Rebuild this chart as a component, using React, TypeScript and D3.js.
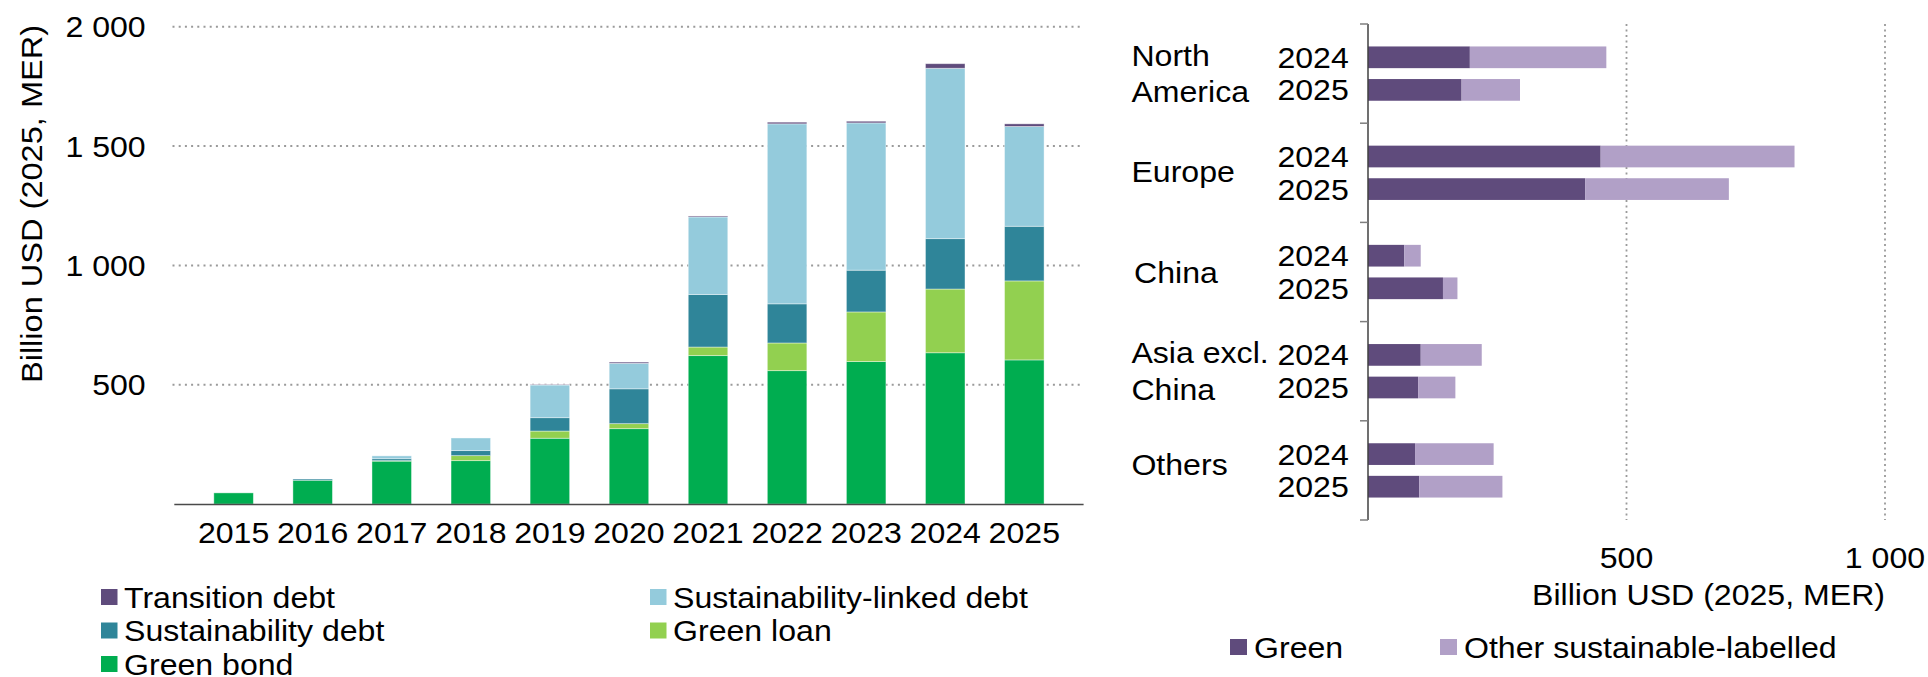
import React from 'react';
import * as d3 from 'd3';

const years = ['2015', '2016', '2017', '2018', '2019', '2020', '2021', '2022', '2023', '2024', '2025'];
const greenBond = [47, 100, 180, 182, 276, 316, 622, 559, 597, 634, 604];
const greenLoan = [0, 0, 2, 21, 30, 21, 36, 116, 208, 267, 331];
const sustainabilityDebt = [0, 5, 8, 21, 56, 146, 220, 164, 175, 211, 229];
const sustainabilityLinked = [0, 0, 12, 53, 137, 107, 325, 754, 617, 714, 418];
const transitionDebt = [0, 0, 0, 0, 2, 5, 4, 7, 7, 19, 11];
const leftTicks = [500, 1000, 1500, 2000];
const leftTickLabels = ['500', '1 000', '1 500', '2 000'];

const seriesNames = ['Green bond', 'Green loan', 'Sustainability debt', 'Sustainability-linked debt', 'Transition debt'];
const seriesColors = ['#00ad50', '#92d050', '#2f8599', '#94cbdc', '#5f4b7c'];

const regions = ['North America', 'Europe', 'China', 'Asia excl. China', 'Others'];
const regionLines = [['North', 'America'], ['Europe'], ['China'], ['Asia excl.', 'China'], ['Others']];
const regionYears = ['2024', '2025'];
const green2024 = [197, 450, 70, 102, 91];
const green2025 = [181, 420, 145, 97, 99];
const other2024 = [264, 375, 32, 118, 152];
const other2025 = [113, 278, 28, 72, 161];
const rightTicks = [500, 1000];
const rightTickLabels = ['500', '1 000'];
const rightColors = ['#5f4b7c', '#b1a0c7'];
const rightLegend = ['Green', 'Other sustainable-labelled'];

const FONT = '"Liberation Sans", Arial, sans-serif';
const FS = 30;
const SX = 1.07;

function T({ x, y, children, anchor = 'start', dy }: any) {
  return (
    <text transform={`translate(${x},${y}) scale(${SX},1)`} textAnchor={anchor} dy={dy} fontSize={FS} fill="#000">
      {children}
    </text>
  );
}

export default function App() {
  // Left chart
  const x = d3.scaleBand<string>().domain(years).range([174.3, 1083.6]).padding(0.5);
  const y = d3.scaleLinear().domain([0, 2000]).range([504.1, 26.7]);
  const table = years.map((yr, i) => ({
    year: yr,
    s0: greenBond[i], s1: greenLoan[i], s2: sustainabilityDebt[i], s3: sustainabilityLinked[i], s4: transitionDebt[i],
  }));
  const stack = d3.stack<any>().keys(['s0', 's1', 's2', 's3', 's4']);
  const stacked = stack(table);

  // Right chart
  const yr = d3.scaleBand<string>().domain(regions).range([24, 520]).padding(0);
  const yInner = d3.scaleBand<string>().domain(regionYears).range([0, yr.bandwidth()]).paddingInner(0.334).paddingOuter(0.689);
  const xr = d3.scaleLinear().domain([0, 1000]).range([1368, 1885]);
  const rows = regions.flatMap((r, i) => [
    { region: r, year: '2024', green: green2024[i], other: other2024[i] },
    { region: r, year: '2025', green: green2025[i], other: other2025[i] },
  ]);
  const labelNudge = [0, -1, 0, 0, -6];
  const labelX = [1131.4, 1131.4, 1134, 1131.4, 1131.4];

  const legendLeft = [
    { name: seriesNames[4], color: seriesColors[4], x: 101, y: 597 },
    { name: seriesNames[2], color: seriesColors[2], x: 101, y: 630.5 },
    { name: seriesNames[0], color: seriesColors[0], x: 101, y: 664 },
    { name: seriesNames[3], color: seriesColors[3], x: 650, y: 597 },
    { name: seriesNames[1], color: seriesColors[1], x: 650, y: 630.5 },
  ];

  return (
    <div style={{ position: 'absolute', left: 0, top: 0 }}>
      <svg width={1928} height={677} style={{ display: 'block', fontFamily: FONT }}>
        <rect width={1928} height={677} fill="#ffffff" />
        {/* Left gridlines */}
        {leftTicks.map((t) => (
          <line key={t} x1={172.5} x2={1083.6} y1={y(t)} y2={y(t)} stroke="#9a9a9a" strokeWidth={2} strokeDasharray="2,4.2" />
        ))}
        {leftTicks.map((t, i) => (
          <T key={'l' + t} x={145.7} y={y(t)} dy="0.35em" anchor="end">{leftTickLabels[i]}</T>
        ))}
        <text transform={`translate(31,204) rotate(-90) scale(1.085,1)`} textAnchor="middle" dy="0.35em" fontSize={FS} fill="#000">Billion USD (2025, MER)</text>
        {/* Bars */}
        {stacked.map((s, si) => (
          <g key={si} fill={seriesColors[si]}>
            {s.map((d, i) => {
              const h = y(d[0]) - y(d[1]);
              if (h <= 0) return null;
              return (
                <rect key={i} x={x(years[i])!} y={y(d[1])} width={x.bandwidth()} height={h} stroke="#ffffff" strokeOpacity={0.5} strokeWidth={0.8} />
              );
            })}
          </g>
        ))}
        <line x1={174.3} x2={1083.6} y1={504.6} y2={504.6} stroke="#4a4a4a" strokeWidth={1.5} />
        {years.map((yrr) => (
          <T key={yrr} x={x(yrr)! + x.bandwidth() / 2} y={543} anchor="middle">{yrr}</T>
        ))}
        {/* Left legend */}
        {legendLeft.map((l) => (
          <g key={l.name}>
            <rect x={l.x} y={l.y - 8} width={16.5} height={16} fill={l.color} />
            <T x={l.x + 23} y={l.y} dy="0.35em">{l.name}</T>
          </g>
        ))}

        {/* Right chart gridlines */}
        {rightTicks.map((t, i) => (
          <g key={t}>
            <line x1={xr(t)} x2={xr(t)} y1={24} y2={520} stroke="#9a9a9a" strokeWidth={1.8} strokeDasharray="2,3.5" />
            <T x={xr(t)} y={568} anchor="middle">{rightTickLabels[i]}</T>
          </g>
        ))}
        {/* Right bars */}
        {rows.map((r, i) => {
          const yy = yr(r.region)! + yInner(r.year)!;
          return (
            <g key={i}>
              <rect x={xr(0)} y={yy} width={xr(r.green) - xr(0)} height={yInner.bandwidth()} fill={rightColors[0]} />
              <rect x={xr(r.green)} y={yy} width={xr(r.green + r.other) - xr(r.green)} height={yInner.bandwidth()} fill={rightColors[1]} />
              <T x={1348.8} y={yy + yInner.bandwidth() / 2} dy="0.35em" anchor="end">{r.year}</T>
            </g>
          );
        })}
        {/* Right axis */}
        <line x1={1368} x2={1368} y1={24} y2={520} stroke="#404040" strokeWidth={1.5} />
        {[...regions.map((r) => yr(r)!), 520].map((v, i) => (
          <line key={i} x1={1360} x2={1368} y1={v} y2={v} stroke="#7f7f7f" strokeWidth={1.5} />
        ))}
        {regionLines.map((lines, i) => {
          const c = yr(regions[i])! + yr.bandwidth() / 2 + labelNudge[i];
          const lh = 36.7;
          return lines.map((ln, j) => (
            <T key={i + '-' + j} x={labelX[i]} y={c + (j - (lines.length - 1) / 2) * lh} dy="0.35em">{ln}</T>
          ));
        })}
        <T x={1708.5} y={605} anchor="middle">Billion USD (2025, MER)</T>
        {/* Right legend */}
        <rect x={1230} y={639} width={17} height={16} fill={rightColors[0]} />
        <T x={1254} y={647} dy="0.35em">{rightLegend[0]}</T>
        <rect x={1440} y={639} width={17} height={16} fill={rightColors[1]} />
        <T x={1464} y={647} dy="0.35em">{rightLegend[1]}</T>
      </svg>
    </div>
  );
}
